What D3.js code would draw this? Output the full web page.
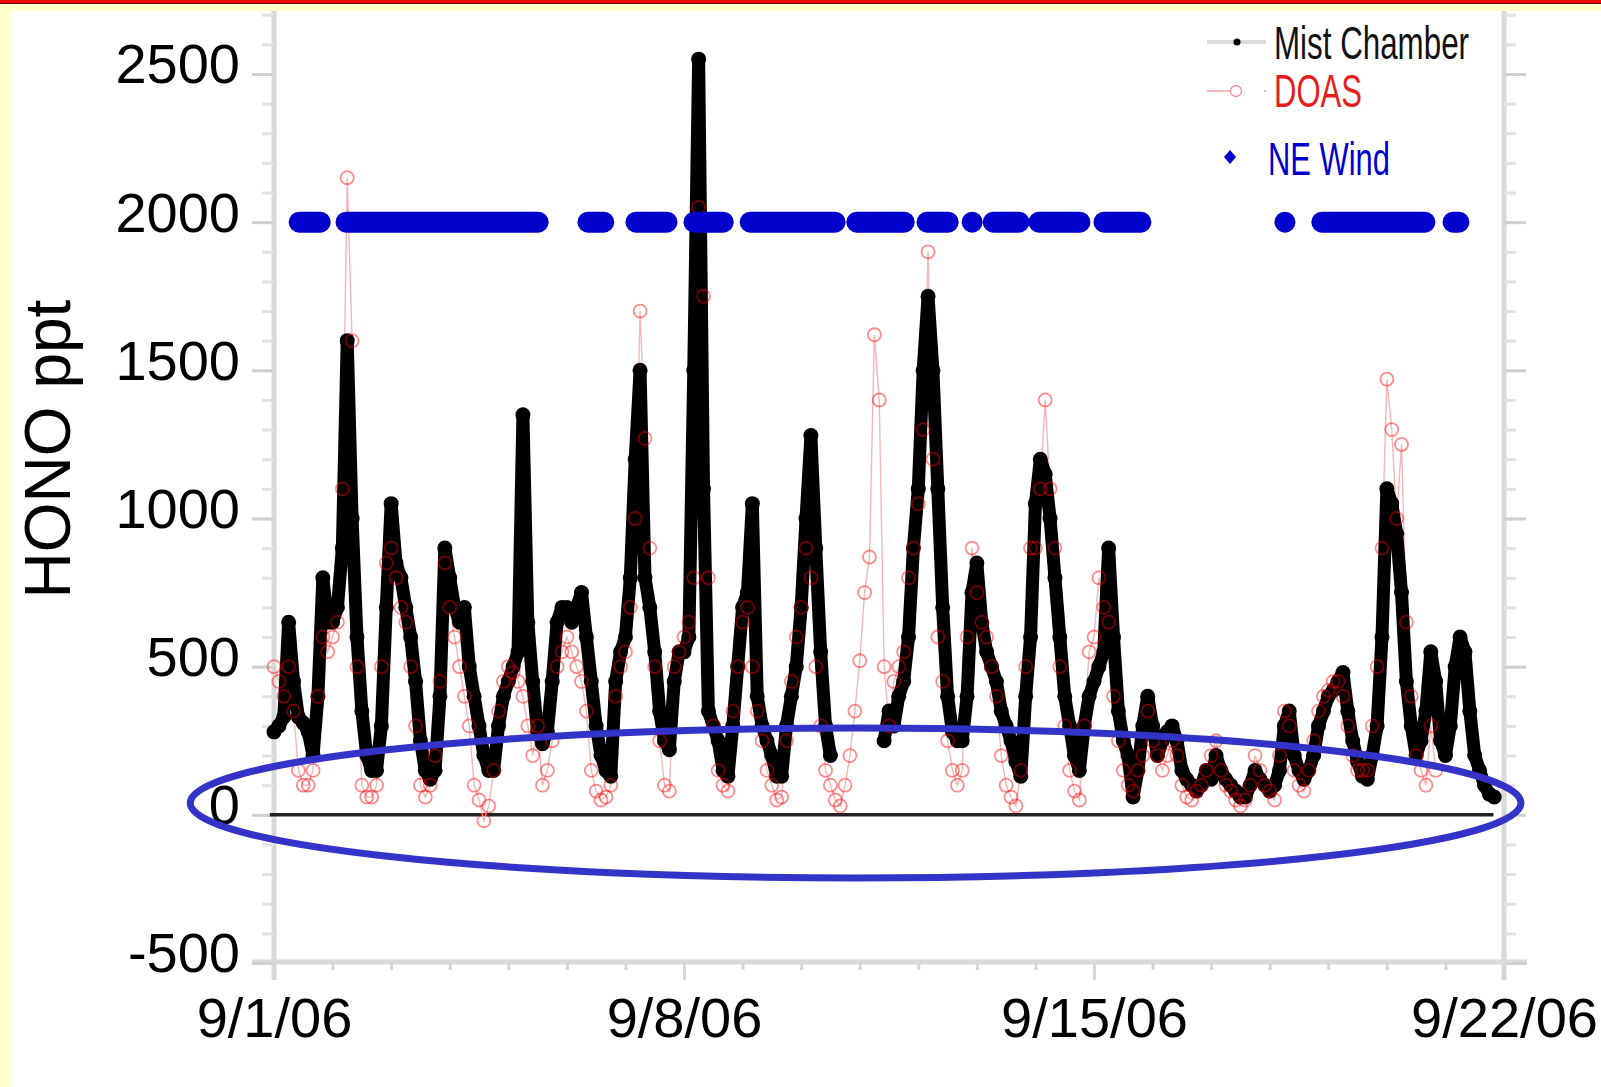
<!DOCTYPE html>
<html lang="en">
<head>
<meta charset="UTF-8">
<title>HONO ppt - Mist Chamber / DOAS / NE Wind</title>
<script src="https://d3js.org/d3.v7.min.js"></script>
<style>
  body { margin: 0; background: #fff; }
  svg { display: block; font-family: "Liberation Sans", Arial, sans-serif; }
</style>
</head>
<body>
<script>
// HONO in ppt, one value every 2 hours from 9/1/06 00:00 (null = no data)
const mistChamber = [
  280, 300, 330, 650, 450, 330, 310, 280, 200, 400, 800, 650,
  650, 700, 900, 1600, 1000, 600, 350, 200, 150, 150, 300, 700,
  1050, 850, 800, 700, 600, 450, 250, 150, 120, 150, 400, 900,
  800, 700, 650, 700, 500, 400, 300, 200, 150, 150, 300, 400,
  450, 500, 550, 1350, 650, 450, 280, 240, 280, 450, 650, 700,
  700, 650, 700, 750, 600, 450, 300, 200, 150, 130, 450, 550,
  600, 800, 1200, 1500, 800, 700, 550, 350, 250, 220, 450, 550,
  550, 600, 1500, 2550, 1100, 350, 300, 250, 150, 130, 300, 500,
  700, 750, 1050, 400, 300, 250, 200, 130, 130, 300, 400, 500,
  700, 1000, 1280, 900, 550, 300, 200, null, null, null, null, null,
  null, null, null, null, null, 250, 350, 300, 400, 450, 600, 900,
  1100, 1500, 1750, 1500, 1100, 700, 400, 280, 250, 250, 400, 750,
  850, 650, 550, 500, 450, 350, 300, 250, 180, 130, 400, 600,
  1050, 1200, 1150, 1000, 800, 600, 400, 300, 200, 150, 300, 400,
  450, 500, 550, 900, 600, 350, 250, 200, 60, 150, 300, 400,
  300, 200, 250, 280, 300, 250, 150, 120, 100, 80, 100, 150,
  120, 200, 150, 120, 100, 80, 60, 60, 100, 150, 120, 100,
  80, 100, 150, 300, 350, 200, 150, 120, 150, 200, 300, 350,
  400, 420, 450, 480, 350, 250, 180, 130, 120, 200, 300, 600,
  1100, 1050, 950, 750, 450, 300, 200, 250, 350, 550, 450, 250,
  200, 300, 500, 600, 550, 350, 200, 150, 100, 70, 60
];

const doas = [
  500, 450, 400, 500, 350, 150, 100, 100, 150, 400, 600, 550,
  600, 650, 1100, 2150, 1600, 500, 100, 60, 60, 100, 500, 850,
  900, 800, 700, 650, 500, 300, 100, 60, 100, 200, 450, 850,
  700, 600, 500, 400, 300, 100, 50, -20, 30, 150, 350, 450,
  500, 480, 450, 400, 300, 200, 300, 100, 150, 250, 500, 550,
  600, 550, 500, 450, 350, 150, 80, 50, 60, 100, 400, 500,
  550, 700, 1000, 1700, 1270, 900, 500, 250, 100, 80, 500, 550,
  600, 650, 800, 2050, 1750, 800, 300, 150, 100, 80, 350, 500,
  650, 700, 500, 350, 250, 150, 100, 50, 60, 250, 450, 600,
  700, 900, 800, 500, 300, 150, 100, 50, 30, 100, 200, 350,
  520, 750, 870, 1620, 1400, 500, 300, 450, 500, 550, 800, 900,
  1050, 1300, 1900, 1200, 600, 450, 250, 150, 100, 150, 600, 900,
  750, 650, 600, 500, 400, 200, 100, 60, 30, 150, 500, 900,
  900, 1100, 1400, 1100, 900, 500, 300, 150, 80, 50, 300, 550,
  600, 800, 700, 650, 400, 250, 150, 100, 80, 150, 200, 350,
  250, 200, 150, 200, 250, 200, 100, 60, 50, 80, 100, 150,
  200, 250, 150, 100, 80, 50, 30, 50, 100, 200, 150, 100,
  80, 50, 200, 350, 300, 150, 100, 80, 150, 250, 350, 400,
  420, 450, 450, 400, 300, 200, 150, 150, 150, 300, 500, 900,
  1470, 1300, 1000, 1250, 650, 400, 200, 150, 100, 300, 150
];

// NE wind periods, [start, end] in days after 9/1/06 00:00, plotted at 2000
const neWind = [
  [0.43, 0.79], [1.23, 4.51], [5.36, 5.63], [6.18, 6.71], [7.17, 7.67],
  [8.13, 9.58], [9.95, 10.76], [11.15, 11.51], [11.92, 11.92], [12.28, 12.72],
  [13.06, 13.76], [14.17, 14.80], [17.26, 17.26], [17.89, 19.65], [20.13, 20.23]
];
const neWindLevel = 2000;

const yMajor = [-500, 0, 500, 1000, 1500, 2000, 2500];
const xLabelDays = [0, 7, 14, 21];
// circled region (days, ppt)
const circled = { d0: -1.43, d1: 21.29, v0: -213, v1: 293 };

const width = 1601, height = 1087;
const DAY = 86400000;
const t0 = Date.UTC(2006, 8, 1);
const step = 2 * 3600 * 1000;
const dt = d => new Date(t0 + d * DAY);

const svg = d3.select("body").append("svg")
  .attr("width", width)
  .attr("height", height);

// slide frame
svg.append("rect").attr("width", width).attr("height", height).attr("fill", "#fff");
svg.append("rect").attr("width", width).attr("height", 11).attr("fill", "#ffffcc");
svg.append("rect").attr("width", 12).attr("height", height).attr("fill", "#ffffcc");
svg.append("rect").attr("width", width).attr("height", 3).attr("fill", "#ff0000");
svg.append("rect").attr("y", 3).attr("width", width).attr("height", 1).attr("fill", "#5a0000");

const x = d3.scaleUtc().domain([dt(0), dt(21)]).range([274, 1504]);
const y = d3.scaleLinear().domain([-500, 2700]).range([963, 14.7]);

const minorY = d3.range(-500, 2701, 100);
const minorX = d3.range(0, 22).map(dt);

// axis lines
const axisStroke = "#d9d9d9";
svg.append("line").attr("x1", 274).attr("x2", 274).attr("y1", 11).attr("y2", 980)
  .attr("stroke", axisStroke).attr("stroke-width", 5);
svg.append("line").attr("x1", 1504).attr("x2", 1504).attr("y1", 11).attr("y2", 980)
  .attr("stroke", axisStroke).attr("stroke-width", 5);
svg.append("line").attr("x1", 252).attr("x2", 1527).attr("y1", 962).attr("y2", 962)
  .attr("stroke", axisStroke).attr("stroke-width", 5);

function styleTicks(g, color) {
  g.select(".domain").remove();
  g.selectAll(".tick line").attr("stroke", color).attr("stroke-width", 3);
}

// left axis
svg.append("g").attr("transform", "translate(274,0)")
  .call(d3.axisLeft(y).tickValues(minorY).tickSize(12).tickFormat(""))
  .call(g => styleTicks(g, "#e2e2e2"));
svg.append("g").attr("transform", "translate(274,0)")
  .call(d3.axisLeft(y).tickValues(yMajor).tickSize(22).tickPadding(12).tickFormat(d => String(d)))
  .call(g => styleTicks(g, "#d0d0d0"))
  .call(g => g.selectAll(".tick text")
    .attr("fill", "#000").attr("font-size", 56).attr("dy", "0.16em")
    .attr("font-family", "Liberation Sans, Arial, sans-serif"));

// right axis
svg.append("g").attr("transform", "translate(1504,0)")
  .call(d3.axisRight(y).tickValues(minorY).tickSize(12).tickFormat(""))
  .call(g => styleTicks(g, "#e2e2e2"));
svg.append("g").attr("transform", "translate(1504,0)")
  .call(d3.axisRight(y).tickValues(yMajor).tickSize(22).tickFormat(""))
  .call(g => styleTicks(g, "#d0d0d0"));

// bottom axis
svg.append("g").attr("transform", "translate(0,962)")
  .call(d3.axisBottom(x).tickValues(minorX).tickSize(8).tickFormat(""))
  .call(g => styleTicks(g, "#d6d6d6"));
svg.append("g").attr("transform", "translate(0,962)")
  .call(d3.axisBottom(x).tickValues(xLabelDays.map(dt)).tickSize(18).tickPadding(17)
    .tickFormat(d3.utcFormat("%-m/%-d/%y")))
  .call(g => styleTicks(g, "#d6d6d6"))
  .call(g => g.selectAll(".tick text")
    .attr("fill", "#000").attr("font-size", 56)
    .attr("font-family", "Liberation Sans, Arial, sans-serif"));

// y title
svg.append("text")
  .attr("transform", "translate(70,449) rotate(-90)")
  .attr("text-anchor", "middle")
  .attr("font-size", 64)
  .attr("fill", "#000")
  .text("HONO ppt");

// zero line
svg.append("line")
  .attr("x1", x(dt(-0.07))).attr("x2", x(dt(20.82)))
  .attr("y1", y(0)).attr("y2", y(0))
  .attr("stroke", "#222").attr("stroke-width", 3.5);

const mcData = mistChamber.map((v, i) => ({ t: new Date(t0 + i * step), v }));
const doasData = doas.map((v, i) => ({ t: new Date(t0 + i * step), v }));

const line = d3.line()
  .defined(d => d.v !== null)
  .x(d => x(d.t))
  .y(d => y(d.v));

// DOAS connecting line (pale, under everything)
svg.append("path")
  .datum(doasData)
  .attr("d", line)
  .attr("fill", "none")
  .attr("stroke", "#f7b5b5")
  .attr("stroke-width", 1.4);

// Mist Chamber: dense readings drawn as a heavy trace of dots
svg.append("path")
  .datum(mcData)
  .attr("d", line)
  .attr("fill", "none")
  .attr("stroke", "#000")
  .attr("stroke-width", 13)
  .attr("stroke-linejoin", "round")
  .attr("stroke-linecap", "round");

svg.append("g")
  .selectAll("circle")
  .data(mcData.filter(d => d.v !== null))
  .join("circle")
  .attr("cx", d => x(d.t))
  .attr("cy", d => y(d.v))
  .attr("r", 7.5)
  .attr("fill", "#000");

// DOAS circles
svg.append("g")
  .selectAll("circle")
  .data(doasData.filter(d => d.v !== null))
  .join("circle")
  .attr("cx", d => x(d.t))
  .attr("cy", d => y(d.v))
  .attr("r", 6.5)
  .attr("fill", "none")
  .attr("stroke", "#ff0000")
  .attr("stroke-opacity", 0.45)
  .attr("stroke-width", 1.8);

// NE wind
svg.append("g")
  .selectAll("line")
  .data(neWind)
  .join("line")
  .attr("x1", d => x(dt(d[0])))
  .attr("x2", d => x(dt(d[1])))
  .attr("y1", y(neWindLevel))
  .attr("y2", y(neWindLevel))
  .attr("stroke", "#0000cc")
  .attr("stroke-width", 21)
  .attr("stroke-linecap", "round");

// circled region
const ex0 = x(dt(circled.d0)), ex1 = x(dt(circled.d1));
const ey0 = y(circled.v1), ey1 = y(circled.v0);
svg.append("ellipse")
  .attr("cx", (ex0 + ex1) / 2)
  .attr("cy", (ey0 + ey1) / 2)
  .attr("rx", (ex1 - ex0) / 2)
  .attr("ry", (ey1 - ey0) / 2)
  .attr("fill", "none")
  .attr("stroke", "#3333c8")
  .attr("stroke-width", 7);

// legend
const leg = svg.append("g");
leg.append("line").attr("x1", 1207).attr("x2", 1266).attr("y1", 42).attr("y2", 42)
  .attr("stroke", "#dcdcdc").attr("stroke-width", 4);
leg.append("circle").attr("cx", 1237).attr("cy", 42).attr("r", 3.5).attr("fill", "#000");
leg.append("text").attr("x", 1274).attr("y", 59).attr("font-size", 46)
  .attr("textLength", 195).attr("lengthAdjust", "spacingAndGlyphs")
  .attr("fill", "#111").text("Mist Chamber");

leg.append("line").attr("x1", 1207).attr("x2", 1231).attr("y1", 91).attr("y2", 91)
  .attr("stroke", "#f4a0a0").attr("stroke-width", 1.5);
leg.append("circle").attr("cx", 1236).attr("cy", 91).attr("r", 5.5)
  .attr("fill", "none").attr("stroke", "#f08a8a").attr("stroke-width", 1.3);
leg.append("circle").attr("cx", 1265).attr("cy", 91).attr("r", 1)
  .attr("fill", "#f4a0a0");
leg.append("text").attr("x", 1274).attr("y", 107).attr("font-size", 46)
  .attr("textLength", 88).attr("lengthAdjust", "spacingAndGlyphs")
  .attr("fill", "#e41e1e").text("DOAS");

leg.append("path").attr("d", "M1230,150 L1236,157 L1230,164 L1224,157 Z").attr("fill", "#0000cc");
leg.append("text").attr("x", 1268).attr("y", 175).attr("font-size", 46)
  .attr("textLength", 122).attr("lengthAdjust", "spacingAndGlyphs")
  .attr("fill", "#0000cc").text("NE Wind");
</script>
</body>
</html>
